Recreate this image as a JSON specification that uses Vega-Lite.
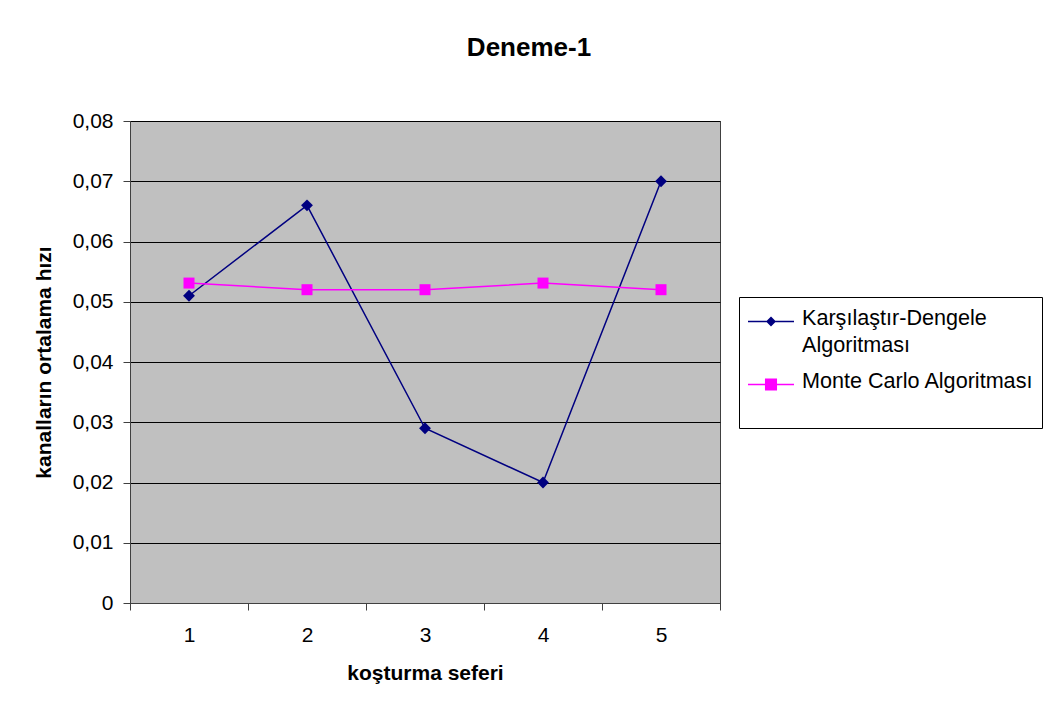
{
  "$schema": "https://vega.github.io/schema/vega-lite/v6.json",
  "width": 590,
  "height": 482,
  "autosize": {"type": "none"},
  "padding": {"left": 130, "top": 121, "right": 326, "bottom": 110},
  "background": "white",
  "config": {
    "font": "Liberation Sans",
    "view": {"fill": "#C0C0C0", "stroke": "#404040", "strokeWidth": 1}
  },
  "title": {
    "text": "Deneme-1",
    "fontSize": 26,
    "fontWeight": "bold",
    "color": "#000000",
    "anchor": "middle",
    "dx": 104,
    "offset": 28,
    "baseline": "alphabetic"
  },
  "data": {
    "values": [
      {"run": 1, "series": "Karşılaştır-Dengele Algoritması", "value": 0.051},
      {"run": 2, "series": "Karşılaştır-Dengele Algoritması", "value": 0.066},
      {"run": 3, "series": "Karşılaştır-Dengele Algoritması", "value": 0.029},
      {"run": 4, "series": "Karşılaştır-Dengele Algoritması", "value": 0.020},
      {"run": 5, "series": "Karşılaştır-Dengele Algoritması", "value": 0.070},
      {"run": 1, "series": "Monte Carlo Algoritması", "value": 0.0531},
      {"run": 2, "series": "Monte Carlo Algoritması", "value": 0.052},
      {"run": 3, "series": "Monte Carlo Algoritması", "value": 0.052},
      {"run": 4, "series": "Monte Carlo Algoritması", "value": 0.0531},
      {"run": 5, "series": "Monte Carlo Algoritması", "value": 0.052}
    ]
  },
  "encoding": {
    "x": {
      "field": "run",
      "type": "quantitative",
      "scale": {"domain": [0.5, 5.5], "nice": false, "zero": false},
      "title": "koşturma seferi",
      "axis": {
        "values": [0.5, 1.5, 2.5, 3.5, 4.5, 5.5],
        "labelExpr": "datum.value > 5 ? '' : format(datum.value + 0.5, 'd')",
        "labelOffset": 59,
        "labelFlush": false,
        "labelOverlap": false,
        "grid": false,
        "tickSize": 7,
        "domainColor": "#404040",
        "tickColor": "#404040",
        "labelColor": "#000000",
        "labelFontSize": 21,
        "labelPadding": 14,
        "titleColor": "#000000",
        "titleFontSize": 21,
        "titleFontWeight": "bold",
        "titlePadding": 17
      }
    },
    "y": {
      "field": "value",
      "type": "quantitative",
      "scale": {"domain": [0, 0.08], "nice": false},
      "title": "kanalların ortalama hızı",
      "axis": {
        "values": [0, 0.01, 0.02, 0.03, 0.04, 0.05, 0.06, 0.07, 0.08],
        "labelExpr": "datum.value == 0 ? '0' : replace(format(datum.value, '.2f'), '.', ',')",
        "labelFlush": false,
        "labelOverlap": false,
        "grid": true,
        "gridColor": "#000000",
        "gridOpacity": 1,
        "gridWidth": 1,
        "tickSize": 7,
        "domainColor": "#404040",
        "tickColor": "#404040",
        "labelColor": "#000000",
        "labelFontSize": 21,
        "labelPadding": 10,
        "titleColor": "#000000",
        "titleFontSize": 21,
        "titleFontWeight": "bold",
        "titlePadding": 18
      }
    },
    "color": {
      "field": "series",
      "type": "nominal",
      "scale": {
        "domain": ["Karşılaştır-Dengele Algoritması", "Monte Carlo Algoritması"],
        "range": ["#000080", "#FF00FF"]
      },
      "legend": {
        "orient": "none",
        "legendX": 609,
        "legendY": 176,
        "title": null,
        "strokeColor": "#000000",
        "fillColor": "#FFFFFF",
        "padding": 8,
        "labelFontSize": 21.6,
        "labelColor": "#000000",
        "labelLimit": 0,
        "symbolSize": 2116,
        "labelOffset": 7,
        "rowPadding": 11,
        "labelBaseline": "line-top",
        "labelExpr": "datum.value == 'Karşılaştır-Dengele Algoritması' ? ['Karşılaştır-Dengele', 'Algoritması'] : [datum.value, '']",
        "encode": {
          "symbols": {
            "update": {
              "shape": {"signal": "datum.value == 'Monte Carlo Algoritması' ? 'M-1,0H1M-0.23,-0.23H0.23V0.23H-0.23Z' : 'M-1,0H1M0,-0.17L0.17,0L0,0.17L-0.17,0Z'"},
              "fill": {"signal": "scale('color', datum.value)"},
              "stroke": {"signal": "scale('color', datum.value)"},
              "strokeWidth": {"value": 1.5},
              "opacity": {"value": 1},
              "size": {"value": 2116},
              "y": {"value": 16.5}
            }
          },
          "labels": {
            "update": {
              "lineHeight": {"value": 27},
              "y": {"value": 0}
            }
          }
        }
      }
    }
  },
  "layer": [
    {"mark": {"type": "line", "strokeWidth": 1.5}},
    {
      "transform": [{"filter": "datum.series == 'Karşılaştır-Dengele Algoritması'"}],
      "mark": {"type": "point", "shape": "diamond", "filled": true, "opacity": 1, "size": 140}
    },
    {
      "transform": [{"filter": "datum.series == 'Monte Carlo Algoritması'"}],
      "mark": {"type": "point", "shape": "square", "filled": true, "opacity": 1, "size": 121}
    }
  ]
}
